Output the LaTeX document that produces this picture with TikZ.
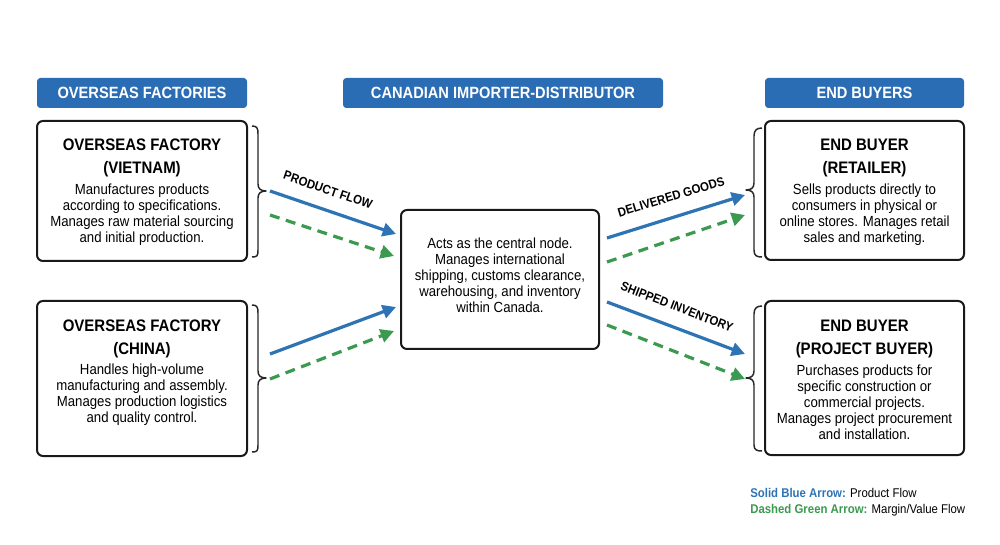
\documentclass[tikz,border=0pt]{standalone}
\usepackage{fontspec}
\setmainfont{Liberation Sans}[FakeStretch=0.9]
\usetikzlibrary{arrows.meta,fit}
\definecolor{hblue}{HTML}{2A6DB5}
\definecolor{ablue}{HTML}{2E74B5}
\definecolor{agreen}{HTML}{3C9A50}
\begin{document}
\begin{tikzpicture}[x=0.75pt,y=-0.75pt,
  hdr/.style={fill=hblue, draw=none, rounded corners=2.5pt, inner sep=0pt},
  hdrtxt/.style={text=white, font=\bfseries\fontsize{12.2}{14}\selectfont},
  box/.style={draw=black!90, line width=1.5pt, rounded corners=4.5pt, inner sep=0pt, fill=white},
  ttl/.style={font=\bfseries\fontsize{12.5}{17}\selectfont, align=center, anchor=north, inner sep=0pt},
  bdy/.style={font=\fontsize{11}{12}\selectfont, align=center, anchor=north, inner sep=0pt},
  brc/.style={draw=black!85, line width=1.1pt, line join=round},
  barrow/.style={draw=ablue, line width=2.4pt, -{Triangle[length=10pt,width=10pt]}},
  garrow/.style={draw=agreen, line width=2.4pt, dash pattern=on 7.5pt off 5pt, -{Triangle[length=10pt,width=10pt]}},
  lbl/.style={font=\bfseries\fontsize{9.5}{11}\selectfont, inner sep=0pt},
  leg/.style={font=\fontsize{9.5}{11}\selectfont, anchor=west, inner sep=0pt}
]
\useasboundingbox[fill=white] (0,0) rectangle (1000,545);

% headers
\node[hdr, fit={(37,78)(247,108)}] (h1) {};
\node[hdrtxt] at (h1) {OVERSEAS FACTORIES};
\node[hdr, fit={(343,78)(663,108)}] (h2) {};
\node[hdrtxt] at (h2) {CANADIAN IMPORTER-DISTRIBUTOR};
\node[hdr, fit={(765,78)(964,108)}] (h3) {};
\node[hdrtxt] at (h3) {END BUYERS};

% boxes
\node[box, fit={(37,121)(247,261)}] (vn) {};
\node[ttl] (vnt) at (142,139) {OVERSEAS FACTORY\\(VIETNAM)};
\node[bdy] (vnb) at (142,184) {Manufactures products\\according to specifications.\\Manages raw material sourcing\\and initial production.};

\node[box, fit={(37,301)(247,456)}] (cn) {};
\node[ttl] (cnt) at (142,320) {OVERSEAS FACTORY\\(CHINA)};
\node[bdy] (cnb) at (142,364) {Handles high-volume\\manufacturing and assembly.\\Manages production logistics\\and quality control.};

\node[box, fit={(401,210)(599,349)}] (ctr) {};
\node[bdy] (ctrb) at (500,238) {Acts as the central node.\\Manages international\\shipping, customs clearance,\\warehousing, and inventory\\within Canada.};

\node[box, fit={(765,121)(964,260)}] (rt) {};
\node[ttl] (rtt) at (864.5,139) {END BUYER\\(RETAILER)};
\node[bdy] (rtb) at (864.5,184) {Sells products directly to\\consumers in physical or\\online stores. Manages retail\\sales and marketing.};

\node[box, fit={(765,301)(964,455)}] (pb) {};
\node[ttl] (pbt) at (864.5,320) {END BUYER\\(PROJECT BUYER)};
\node[bdy] (pbb) at (864.5,365) {Purchases products for\\specific construction or\\commercial projects.\\Manages project procurement\\and installation.};

% braces (right-pointing)
\draw[brc] (252,126) .. controls (257,126) and (258,128) .. (258,134) -- (258,184)
  .. controls (258,189) and (261,191) .. (266,191)
  .. controls (261,191) and (258,193) .. (258,198) -- (258,250)
  .. controls (258,256) and (257,257) .. (252,257);
\draw[brc] (252,305) .. controls (257,305) and (258,307) .. (258,313) -- (258,371)
  .. controls (258,376) and (261,378) .. (266,378)
  .. controls (261,378) and (258,380) .. (258,385) -- (258,445)
  .. controls (258,451) and (257,452) .. (252,452);
% braces (left-pointing)
\draw[brc] (762,128) .. controls (757,128) and (754,130) .. (754,136) -- (754,183)
  .. controls (754,188) and (751,190) .. (746,190)
  .. controls (751,190) and (754,192) .. (754,197) -- (754,250)
  .. controls (754,256) and (757,257) .. (762,257);
\draw[brc] (762,306) .. controls (757,306) and (754,308) .. (754,314) -- (754,371)
  .. controls (754,376) and (751,378) .. (746,378)
  .. controls (751,378) and (754,380) .. (754,385) -- (754,445)
  .. controls (754,450) and (757,451) .. (762,451);

% arrow end points
\coordinate (a1s) at (270,191); \coordinate (a1e) at (396,234);
\coordinate (g1s) at (270,215); \coordinate (g1e) at (394,256);
\coordinate (a2s) at (270,354); \coordinate (a2e) at (396,307);
\coordinate (g2s) at (270,379); \coordinate (g2e) at (394,331);
\coordinate (a3s) at (607,238); \coordinate (a3e) at (745,195);
\coordinate (g3s) at (607,262); \coordinate (g3e) at (745,215);
\coordinate (a4s) at (607,302); \coordinate (a4e) at (745,354);
\coordinate (g4s) at (607,325); \coordinate (g4e) at (745,379);

\draw[barrow] (a1s) -- (a1e);
\draw[garrow] (g1s) -- (g1e);
\draw[barrow] (a2s) -- (a2e);
\draw[garrow] (g2s) -- (g2e);
\draw[barrow] (a3s) -- (a3e);
\draw[garrow] (g3s) -- (g3e);
\draw[barrow] (a4s) -- (a4e);
\draw[garrow] (g4s) -- (g4e);

% labels
\node[lbl, rotate=-19] (l1) at (328,190) {PRODUCT FLOW};
\node[lbl, rotate=17] (l2) at (671,197) {DELIVERED GOODS};
\node[lbl, rotate=-21] (l3) at (677,307) {SHIPPED INVENTORY};

% legend
\node[leg] (lg1) at (750,493) {\textcolor{ablue}{\bfseries Solid Blue Arrow:} Product Flow};
\node[leg] (lg2) at (750,510) {\textcolor{agreen}{\bfseries Dashed Green Arrow:} Margin/Value Flow};
\end{tikzpicture}
\end{document}
